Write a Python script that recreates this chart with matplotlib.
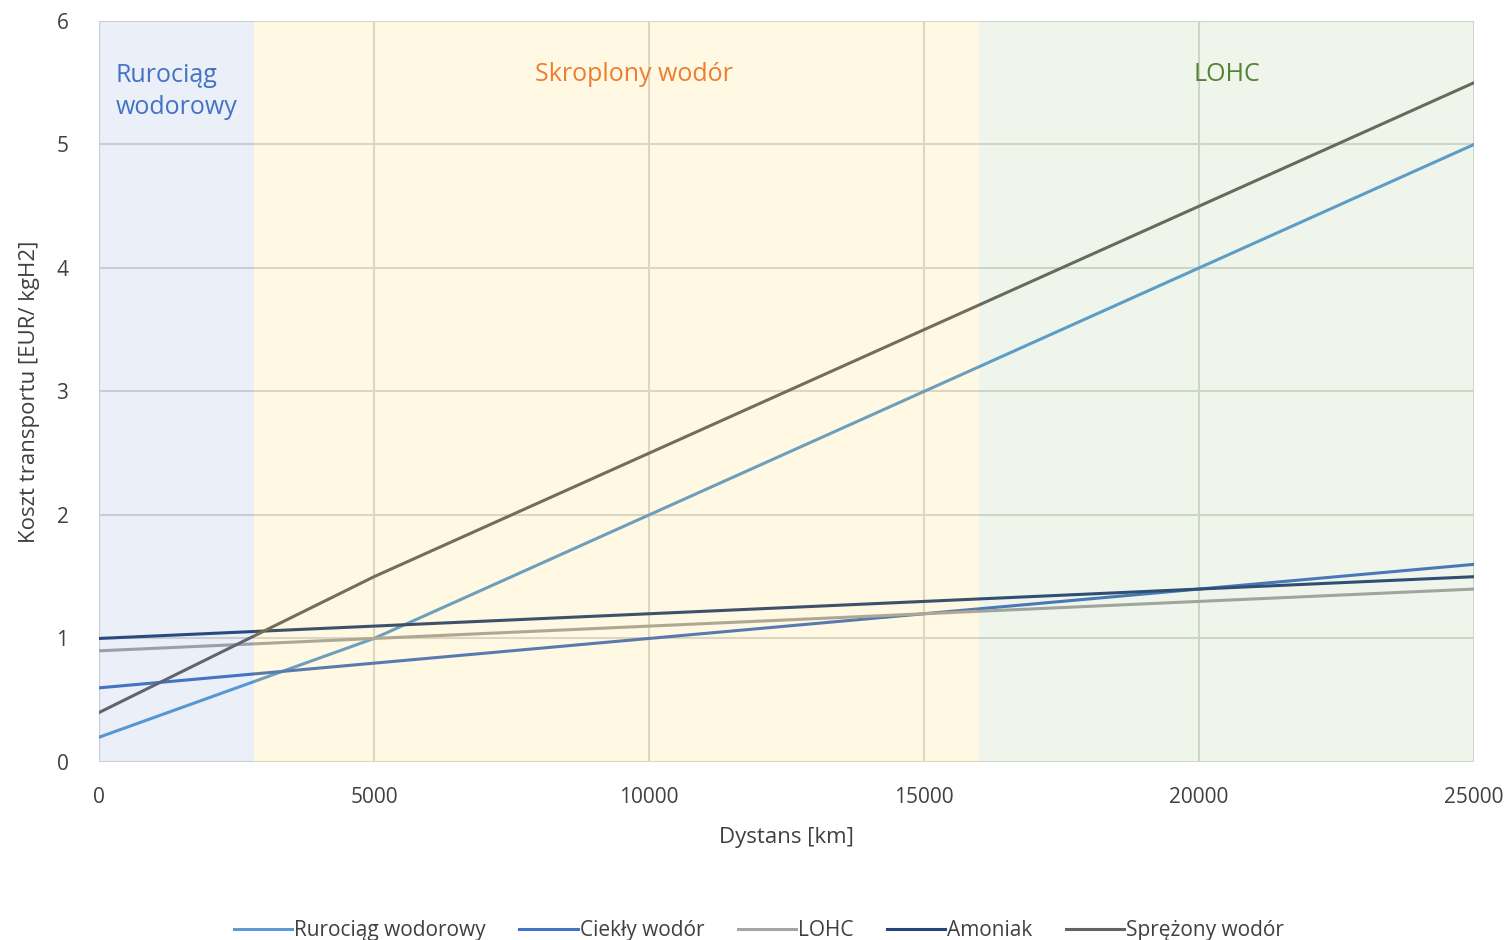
import numpy as np
import matplotlib.pyplot as plt

plt.rcParams['font.family'] = ['Open Sans', 'DejaVu Sans']

# data
distance = [0, 5000, 10000, 15000, 20000, 25000]
rurociag = [0.2, 1.0, 2.0, 3.0, 4.0, 5.0]
ciekly = [0.6, 0.8, 1.0, 1.2, 1.4, 1.6]
lohc = [0.9, 1.0, 1.1, 1.2, 1.3, 1.4]
amoniak = [1.0, 1.1, 1.2, 1.3, 1.4, 1.5]
sprezony = [0.4, 1.5, 2.5, 3.5, 4.5, 5.5]

series = [
    ('Rurociąg wodorowy', rurociag, '#5B9BD5'),
    ('Ciekły wodór', ciekly, '#4472C4'),
    ('LOHC', lohc, '#A5A5A5'),
    ('Amoniak', amoniak, '#264478'),
    ('Sprężony wodór', sprezony, '#636363'),
]

# regions: (start, end, fill colour)
region_bounds = [(0, 2820), (2820, 16000), (16000, 25000)]
region_fill = ['#4472C4', '#FFC000', '#70AD47']

fig = plt.figure(figsize=(15.09, 9.40), dpi=100)
ax = fig.add_axes([0.0656, 0.1894, 0.9112, 0.7883])

for name, vals, col in series:
    ax.plot(distance, vals, color=col, lw=2.2, label=name, zorder=2)

for (x0, x1), fcol in zip(region_bounds, region_fill):
    ax.axvspan(x0, x1, color=fcol, alpha=0.11, lw=0, zorder=3)

ax.text(300, 5.43, 'Rurociąg\nwodorowy', color='#4472C4', fontsize=18,
        va='center', ha='left', linespacing=1.35, zorder=4)
ax.text(9730, 5.57, 'Skroplony wodór', color='#ED7D31', fontsize=18,
        va='center', ha='center', zorder=4)
ax.text(20500, 5.57, 'LOHC', color='#548235', fontsize=18,
        va='center', ha='center', zorder=4)

ax.set_xlim(0, 25000)
ax.set_ylim(0, 6)
ax.set_xticks(np.arange(0, 25001, 5000))
ax.set_yticks(np.arange(0, 7, 1))
ax.grid(True, color='#D9D9D9', lw=1.5, zorder=1)
ax.set_axisbelow(True)
for s in ax.spines.values():
    s.set_visible(False)
ax.tick_params(length=0, labelsize=15, colors='#404040', pad=18)
ax.tick_params(axis='y', pad=22)

ax.set_xlabel('Dystans [km]', fontsize=16, color='#404040', labelpad=14)
ax.set_ylabel('Koszt transportu [EUR/ kgH2]', fontsize=16, color='#404040', labelpad=12)

fig.legend(loc='lower center', bbox_to_anchor=(0.503, -0.021), ncol=5,
           frameon=False, fontsize=15, handlelength=2.8, handletextpad=0.1,
           columnspacing=1.6, labelcolor='#404040')

fig.savefig('out.png', dpi=100)
